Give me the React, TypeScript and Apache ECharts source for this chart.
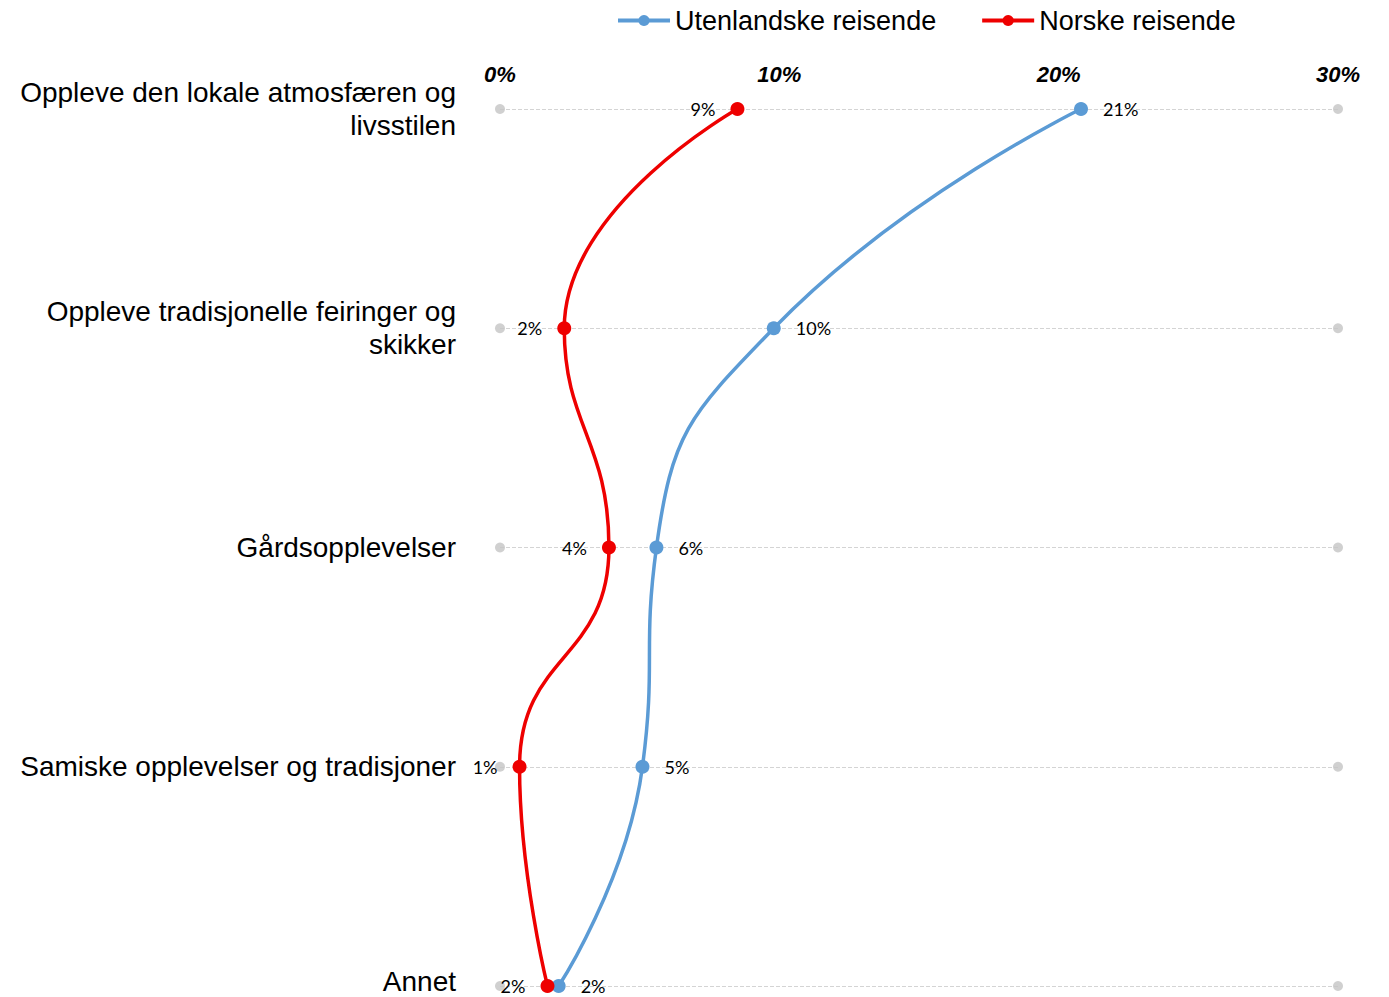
import React, { useEffect, useRef } from "react";
import * as echarts from "echarts";

const categories = [
  "Oppleve den lokale atmosfæren og\nlivsstilen",
  "Oppleve tradisjonelle feiringer og\nskikker",
  "Gårdsopplevelser",
  "Samiske opplevelser og tradisjoner",
  "Annet",
];
const seriesNames = ["Utenlandske reisende", "Norske reisende"];
const utenlandske = [20.8, 9.8, 5.6, 5.1, 2.1];
const norske = [8.5, 2.3, 3.9, 0.7, 1.7];
const xTicks = [0, 10, 20, 30];
const endMarkers = [0, 30];

export default function App() {
  const ref = useRef<HTMLDivElement>(null);
  useEffect(() => {
    if (!ref.current) return;
    const chart = echarts.init(ref.current, null, { renderer: "svg" });
    const toPairs = (arr: number[]) => arr.map((v, i) => [v, categories[i]]);
    const markerData: any[] = [];
    categories.forEach((c) => endMarkers.forEach((m) => markerData.push([m, c])));
    const labelFmt = (p: any) => Math.round(p.value[0]) + "%";
    const catFont = { fontFamily: "Liberation Sans", fontSize: 28, color: "#000" };
    chart.setOption({
      animation: false,
      backgroundColor: "#ffffff",
      legend: {
        top: 2,
        left: 611,
        itemWidth: 52,
        itemHeight: 14,
        itemGap: 44,
        data: seriesNames,
        lineStyle: { width: 4 },
        textStyle: { fontFamily: "Liberation Sans", fontSize: 27, color: "#000" },
      },
      grid: {
        left: 500,
        right: 51,
        top: 109,
        bottom: 11,
        containLabel: false,
        outerBoundsMode: "none",
      },
      xAxis: {
        type: "value",
        position: "top",
        min: xTicks[0],
        max: xTicks[xTicks.length - 1],
        interval: 10,
        axisLine: { show: false },
        axisTick: { show: false },
        splitLine: { show: false },
        axisLabel: {
          formatter: "{value}%",
          fontFamily: "Liberation Sans",
          fontStyle: "italic",
          fontWeight: "bold",
          fontSize: 22,
          color: "#000",
          margin: 24,
        },
      },
      yAxis: {
        type: "category",
        inverse: true,
        boundaryGap: false,
        data: categories,
        axisLine: { show: false },
        axisTick: { show: false },
        splitLine: { show: true, lineStyle: { type: "dashed", color: "#d4d4d4", width: 1 } },
        axisLabel: {
          ...catFont,
          margin: 44,
          lineHeight: 33,
          align: "right",
          formatter: (v: string, i: number) =>
            i === categories.length - 1 ? `{b|${v}}` : v,
          rich: {
            b: { ...catFont, lineHeight: 28, padding: [0, 0, 10, 0], align: "right" },
          },
        },
      },
      series: [
        {
          type: "scatter",
          silent: true,
          symbolSize: 10,
          itemStyle: { color: "#c4c4c4" },
          data: markerData,
          z: 1,
        },
        {
          name: seriesNames[0],
          type: "line",
          smooth: 0.5,
          symbol: "circle",
          symbolSize: 14,
          lineStyle: { color: "#5b9bd5", width: 3.5 },
          itemStyle: { color: "#5b9bd5" },
          data: toPairs(utenlandske),
          label: {
            show: true,
            position: "right",
            distance: 15,
            formatter: labelFmt,
            fontFamily: "Lato",
            fontSize: 18,
            color: "#000",
          },
          z: 3,
        },
        {
          name: seriesNames[1],
          type: "line",
          smooth: 0.5,
          symbol: "circle",
          symbolSize: 14,
          lineStyle: { color: "#ee0000", width: 3.5 },
          itemStyle: { color: "#ee0000" },
          data: toPairs(norske),
          label: {
            show: true,
            position: "left",
            distance: 15,
            formatter: labelFmt,
            fontFamily: "Lato",
            fontSize: 18,
            color: "#000",
          },
          z: 4,
        },
      ],
    });
    return () => chart.dispose();
  }, []);
  return (
    <div
      ref={ref}
      style={{ position: "fixed", left: 0, top: 0, width: 1389, height: 997, background: "#fff" }}
    />
  );
}
